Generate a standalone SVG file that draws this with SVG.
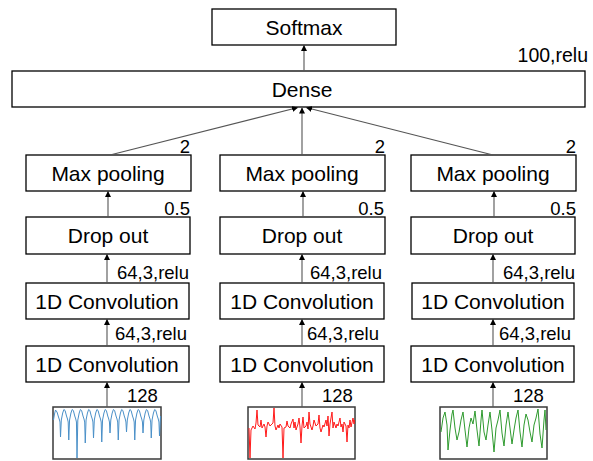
<svg xmlns="http://www.w3.org/2000/svg" width="593" height="461" viewBox="0 0 593 461">
  <style>
    .box { fill: #ffffff; stroke: #000000; stroke-width: 1.3; }
    .lbl { font-family: "Liberation Sans", Arial, sans-serif; font-size: 21px; fill: #000000; text-anchor: middle; }
    .par { font-family: "Liberation Sans", Arial, sans-serif; font-size: 18.5px; fill: #000000; }
    .end { text-anchor: end; }
    .conn line { stroke: #555555; stroke-width: 1.1; marker-end: url(#head); }
    .sigbox { fill: #ffffff; stroke: #3a3a3a; stroke-width: 1.5; }
    .wave { fill: none; stroke-width: 1; stroke-linejoin: round; }
  </style>
  <defs>
    <marker id="head" viewBox="0 0 10 10" refX="10" refY="5" markerWidth="6" markerHeight="6" markerUnits="userSpaceOnUse" orient="auto">
      <path d="M0,0 L10,5 L0,10 z" fill="#000000"/>
    </marker>
  </defs>

  <rect width="593" height="461" fill="#ffffff"/>

  <!-- output layers -->
  <g id="softmax">
    <rect class="box" x="212" y="9" width="184" height="36"/>
    <text class="lbl" x="304" y="34.5">Softmax</text>
  </g>
  <g id="dense">
    <rect class="box" x="12" y="71" width="573" height="36"/>
    <text class="lbl" x="302" y="96.5">Dense</text>
    <text class="par end" x="588" y="62" style="font-size:19.5px">100,relu</text>
  </g>

  <!-- left branch -->
  <g id="maxpool-1">
    <rect class="box" x="26" y="155" width="165" height="36"/>
    <text class="lbl" x="108" y="180.5">Max pooling</text>
    <text class="par end" x="190" y="153">2</text>
  </g>
  <g id="dropout-1">
    <rect class="box" x="26" y="217" width="164" height="37"/>
    <text class="lbl" x="108" y="243">Drop out</text>
    <text class="par end" x="190" y="215">0.5</text>
  </g>
  <g id="conv-1a">
    <rect class="box" x="26" y="283" width="163" height="36"/>
    <text class="lbl" x="107" y="308.5">1D Convolution</text>
    <text class="par" x="117" y="279">64,3,relu</text>
  </g>
  <g id="conv-1b">
    <rect class="box" x="26" y="346" width="163" height="36"/>
    <text class="lbl" x="107" y="371.5">1D Convolution</text>
    <text class="par" x="115" y="340">64,3,relu</text>
  </g>
  <g id="signal-1">
    <rect class="sigbox" x="53" y="407" width="108" height="52"/>
    <text class="par" x="127" y="402">128</text>
    <polyline class="wave" stroke="#4a90c8" points="53.5,420 54.5,414 55.5,410 57,412 58.5,417 59.5,420 60,422 60.5,437 61.3,420 62.7,413 63.9,409.5 65.1,410.5 66.5,416 67.5,419 68.2,422 68.75,440 69.55,420 70.95,413 72.15,409.5 73.35,410.5 74.75,416 75.75,419 76.45,422 77,458 77.8,420 79.2,413 80.4,409.5 81.6,410.5 83,416 84,419 84.7,422 85.25,443 86.05,420 87.45,413 88.65,409.5 89.85,410.5 91.25,416 92.25,419 92.95,422 93.5,438 94.3,420 95.7,413 96.9,409.5 98.1,410.5 99.5,416 100.5,419 101.2,422 101.75,442 102.55,420 103.95,413 105.15,409.5 106.35,410.5 107.75,416 108.75,419 109.45,422 110,433 110.8,420 112.2,413 113.4,409.5 114.6,410.5 116,416 117,419 117.7,422 118.25,440 119.05,420 120.45,413 121.65,409.5 122.85,410.5 124.25,416 125.25,419 125.95,422 126.5,432 127.3,420 128.7,413 129.9,409.5 131.1,410.5 132.5,416 133.5,419 134.2,422 134.75,440 135.55,420 136.95,413 138.15,409.5 139.35,410.5 140.75,416 141.75,419 142.45,422 143,433 143.8,420 145.2,413 146.4,409.5 147.6,410.5 149,416 150,419 150.7,422 151.25,438 152.05,420 153.45,413 154.65,409.5 155.85,410.5 157.25,416 158.25,419 158.95,422 159.5,436 160.3,420 160.6,416"/>
  </g>

  <!-- middle branch -->
  <g id="maxpool-2">
    <rect class="box" x="220" y="155" width="165" height="36"/>
    <text class="lbl" x="302" y="180.5">Max pooling</text>
    <text class="par end" x="385" y="153">2</text>
  </g>
  <g id="dropout-2">
    <rect class="box" x="220" y="217" width="165" height="37"/>
    <text class="lbl" x="302" y="243">Drop out</text>
    <text class="par end" x="384" y="215">0.5</text>
  </g>
  <g id="conv-2a">
    <rect class="box" x="220" y="283" width="164" height="36"/>
    <text class="lbl" x="302" y="308.5">1D Convolution</text>
    <text class="par" x="310" y="279">64,3,relu</text>
  </g>
  <g id="conv-2b">
    <rect class="box" x="220" y="346" width="164" height="36"/>
    <text class="lbl" x="302" y="371.5">1D Convolution</text>
    <text class="par" x="307" y="340">64,3,relu</text>
  </g>
  <g id="signal-2">
    <rect class="sigbox" x="248" y="407" width="107" height="52"/>
    <text class="par" x="322" y="402">128</text>
    <polyline class="wave" stroke="#ff1a1a" points="249,428 250,458 251,430 253,426 255,429 256,423 257,410 258,425 260,427 261,420 262,428 264,424 265,427 266,437 267,426 268,422 270,426 271,425 273,423 274,408 275,426 276,430 278,425 279,428 280,424 282,427 283,458 284,428 286,427 287,421 288,426 290,428 291,424 293,419 294,428 295,422 296,430 298,424 299,418 300,427 301,443 302,426 303,417 304,428 306,426 307,422 308,429 309,412 310,424 312,430 313,426 314,420 316,426 318,424 319,415 320,428 321,432 323,425 324,427 326,420 327,426 328,416 329,436 330,424 332,412 333,428 334,422 336,428 337,424 338,426 340,418 341,427 342,424 343,432 344,422 346,426 347,442 348,425 349,428 350,420 351,427 353,418 354,424 354.5,420"/>
  </g>

  <!-- right branch -->
  <g id="maxpool-3">
    <rect class="box" x="411" y="155" width="165" height="36"/>
    <text class="lbl" x="493" y="180.5">Max pooling</text>
    <text class="par end" x="576" y="153">2</text>
  </g>
  <g id="dropout-3">
    <rect class="box" x="411" y="217" width="164" height="37"/>
    <text class="lbl" x="493" y="243">Drop out</text>
    <text class="par end" x="576" y="215">0.5</text>
  </g>
  <g id="conv-3a">
    <rect class="box" x="412" y="283" width="162" height="36"/>
    <text class="lbl" x="493" y="308.5">1D Convolution</text>
    <text class="par" x="503" y="279">64,3,relu</text>
  </g>
  <g id="conv-3b">
    <rect class="box" x="411" y="346" width="163" height="36"/>
    <text class="lbl" x="493" y="371.5">1D Convolution</text>
    <text class="par" x="499" y="340">64,3,relu</text>
  </g>
  <g id="signal-3">
    <rect class="sigbox" x="440" y="407" width="107" height="52"/>
    <text class="par" x="513" y="402">128</text>
    <polyline class="wave" stroke="#2e9a2e" points="441,432 443,418 445,412 447,425 448,450 450,430 452,414 453,410 455,428 457,440 459,432 461,420 463,412 465,430 467,447 469,428 471,418 473,424 475,411 477,430 479,446 481,420 482,410 484,432 486,440 488,425 490,412 492,430 494,452 496,428 498,420 500,410 502,433 504,446 506,425 508,412 510,428 512,444 514,430 516,418 518,410 520,432 522,447 524,425 526,414 528,420 530,432 532,442 534,425 536,418 538,409 540,434 542,448 544,420 545,410 546,430"/>
  </g>

  <!-- connectors -->
  <g id="connectors" class="conn">
    <line x1="304" y1="71" x2="304" y2="45"/>
    <line x1="110" y1="155" x2="298" y2="107.5"/>
    <line x1="302" y1="155" x2="302" y2="107.5"/>
    <line x1="493" y1="155" x2="306" y2="107.5"/>
    <line x1="108" y1="217" x2="108" y2="191"/>
    <line x1="303" y1="217" x2="303" y2="191"/>
    <line x1="494" y1="217" x2="494" y2="191"/>
    <line x1="107" y1="283" x2="107" y2="254"/>
    <line x1="302" y1="283" x2="302" y2="254"/>
    <line x1="493" y1="283" x2="493" y2="254"/>
    <line x1="107" y1="346" x2="107" y2="319"/>
    <line x1="302" y1="346" x2="302" y2="319"/>
    <line x1="493" y1="346" x2="493" y2="319"/>
    <line x1="107" y1="407" x2="107" y2="382"/>
    <line x1="302" y1="407" x2="302" y2="382"/>
    <line x1="493" y1="407" x2="493" y2="382"/>
  </g>
</svg>
